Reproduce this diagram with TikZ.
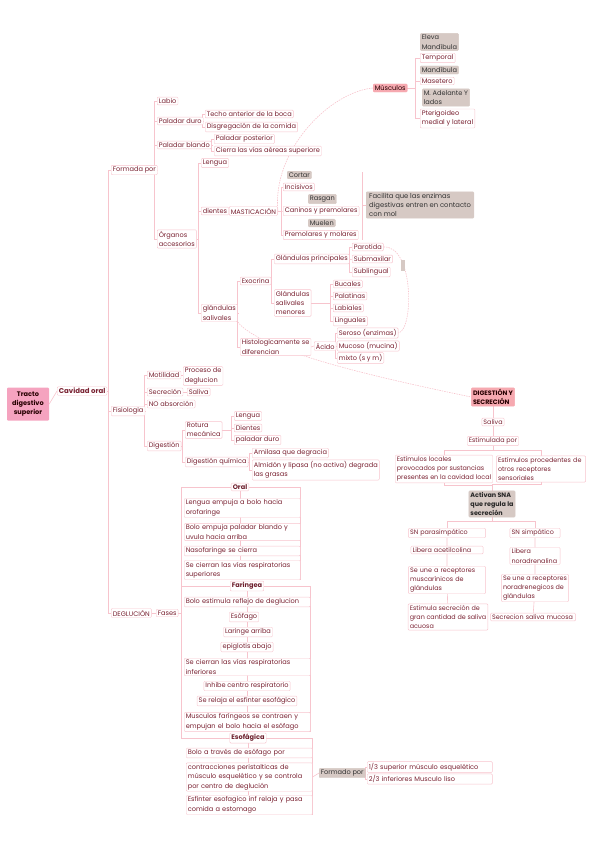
\documentclass[tikz,border=0pt]{standalone}
\usepackage{fontspec}
\setmainfont{Poppins}
\usepackage{xcolor}
\usetikzlibrary{backgrounds,calc}
\definecolor{lpink}{HTML}{F7C4CD}
\definecolor{txtred}{HTML}{7A2232}
\definecolor{taupe}{HTML}{D6C9C4}
\definecolor{rootpink}{HTML}{F5A3BF}
\definecolor{muspink}{HTML}{F6A9B0}
\tikzset{
  leaf/.style={draw=lpink, fill=white, rounded corners=1pt, inner xsep=1.6pt, inner ysep=1.4pt, text=txtred,
    font=\fontsize{6.6}{9.4}\selectfont, anchor=west, align=left},
  greybox/.style={leaf, fill=taupe, draw=taupe, text=black!80},
  midleaf/.style={leaf, anchor=center},
  header/.style={midleaf, font=\fontsize{6.6}{9.4}\selectfont\bfseries, text=txtred!90!black},
  phase/.style={leaf, text width=113pt},
  phasewide/.style={leaf, text width=123pt},
  rootbox/.style={fill=rootpink, rounded corners=1pt, align=center, minimum width=42pt,
    minimum height=33pt, inner sep=1pt, font=\fontsize{6.6}{9.4}\selectfont\bfseries, text=black!85!red},
  musbox/.style={leaf, fill=muspink, draw=muspink, text=black!85!red},
  digbox/.style={midleaf, fill=muspink, draw=muspink, text=black!85!red, font=\fontsize{6.4}{9.2}\selectfont\bfseries},
  actbox/.style={midleaf, fill=taupe, draw=taupe, text=black!85, font=\fontsize{6.4}{9.2}\selectfont\bfseries},
  rightleaf/.style={midleaf, font=\fontsize{6.4}{9.2}\selectfont},
  wire/.style={draw=lpink, line width=0.6pt},
  relwire/.style={draw=lpink, dash pattern=on 1.5pt off 1pt, line width=0.6pt},
}
\begin{document}
\begin{tikzpicture}[x=1pt,y=-1pt]
\useasboundingbox (0,0) rectangle (600,848);
% raiz
\node[rootbox] (tracto) at (28,404) {Tracto\\digestivo\\superior};
\node[leaf, font=\fontsize{7}{9}\selectfont\bfseries] (cavidad) at (57,391) {Cavidad oral};
\node[leaf] (formada) at (111,170) {Formada por};
\node[leaf] (fisio) at (111,411) {Fisiologia};
\node[leaf] (deglu) at (111,613) {DEGLUCIÓN};
% formada por
\node[leaf] (labio) at (157,101) {Labio};
\node[leaf] (pduro) at (157,121) {Paladar duro};
\node[leaf] (pblando) at (157,145) {Paladar blando};
\node[leaf] (organos) at (157,239) {Órganos\\accesorios};
\node[leaf] (techo) at (205,114) {Techo anterior de la boca};
\node[leaf] (disgre) at (205,127) {Disgregación de la comida};
\node[leaf] (pposte) at (214,139) {Paladar posterior};
\node[leaf] (cierra) at (214,151) {Cierra las vías aéreas superiore};
\node[leaf] (lengua) at (201,163) {Lengua};
\node[leaf] (dientes) at (201,211) {dientes};
\node[leaf] (glsal) at (201,313) {glándulas\\salivales};
% masticacion
\node[leaf] (mast) at (229,211) {MASTICACIÓN};
\node[greybox] (cortar) at (287,175) {Cortar};
\node[leaf] (incis) at (283,187) {Incisivos};
\node[greybox] (rasgan) at (308,199) {Rasgan};
\node[leaf] (canin) at (283,211) {Caninos y premolares};
\node[greybox] (muelen) at (308,223) {Muelen};
\node[leaf] (premol) at (283,235) {Premolares y molares};
\node[greybox, inner xsep=3pt, font=\fontsize{6.8}{9.2}\selectfont] (facil) at (366,205) {Facilita que las enzimas\\digestivas entren en contacto\\con mol};
\coordinate (sumtop) at (362,172);
\coordinate (sumbot) at (362,240);
% glandulas
\node[leaf] (exo) at (240,281) {Exocrina};
\node[leaf] (histo) at (240,347) {Histologicamente se\\diferencian};
\node[leaf] (glprin) at (274,259) {Glándulas principales};
\node[leaf] (glmen) at (274,303) {Glándulas\\salivales\\menores};
\node[leaf] (parot) at (352,247) {Parotida};
\node[leaf] (submax) at (352,259) {Submaxilar};
\node[leaf] (subling) at (352,272) {Sublingual};
\node[leaf] (bucal) at (333,284) {Bucales};
\node[leaf] (palat) at (333,296) {Palatinas};
\node[leaf] (labial) at (333,308) {Labiales};
\node[leaf] (lingual) at (333,321) {Linguales};
\node[leaf] (acido) at (314,346) {Ácido};
\node[leaf] (seroso) at (337,333) {Seroso (enzimas)};
\node[leaf] (mucoso) at (337,346) {Mucoso (mucina)};
\node[leaf] (mixto) at (337,358) {mixto (s y m)};
% musculos
\node[musbox] (musc) at (373,88) {Músculos};
\node[greybox] (eleva) at (420,42) {Eleva\\Mandíbula};
\node[leaf] (temporal) at (420,58) {Temporal};
\node[greybox] (mandi) at (420,70) {Mandíbula};
\node[leaf] (masetero) at (420,81) {Masetero};
\node[greybox] (adelante) at (422,97.5) {M. Adelante Y\\lados};
\node[leaf] (pterig) at (420,118.5) {Pterigoideo\\medial y lateral};
% fisiologia
\node[leaf] (motil) at (147,375) {Motilidad};
\node[leaf] (secre) at (147,392) {Secreción};
\node[leaf] (noabs) at (147,404) {NO absorción};
\node[leaf] (diges) at (147,446) {Digestión};
\node[leaf] (proceso) at (183,376) {Proceso de\\deglucion};
\node[leaf] (saliva1) at (187,392) {Saliva};
\node[leaf] (rotura) at (185,430) {Rotura\\mecánica};
\node[leaf] (dquim) at (185,462) {Digestión química};
\node[leaf] (lengua2) at (234,416) {Lengua};
\node[leaf] (dientes2) at (234,428) {Dientes};
\node[leaf] (pduro2) at (234,440) {paladar duro};
\node[leaf] (amilasa) at (252,453) {Amilasa que degracia};
\node[leaf] (almidon) at (252,470) {Almidón y lipasa (no activa) degrada\\las grasas};
% deglucion
\node[leaf] (fases) at (156,613) {Fases};
\node[header] (oralh) at (240,487) {Oral};
\node[phase] (o1) at (184,508) {Lengua empuja a bolo hacia\\orofaringe};
\node[phase] (o2) at (184,532) {Bolo empuja paladar blando y\\uvula hacia arriba};
\node[phase] (o3) at (184,551) {Nasofaringe se cierra};
\node[phase] (o4) at (184,570) {Se cierran las vías respiratorias\\superiores};
\node[header] (farh) at (247,586) {Faringea};
\node[phasewide] (f1) at (184,602) {Bolo estimula reflejo de deglucion};
\node[midleaf] (f2) at (244,617) {Esófago};
\node[midleaf] (f3) at (248,632) {Laringe arriba};
\node[midleaf] (f4) at (247,647) {epiglotis abajo};
\node[phasewide] (f5) at (184,667) {Se cierran las vías respiratorias\\inferiores};
\node[midleaf] (f6) at (247,686) {Inhibe centro respiratorio};
\node[midleaf] (f7) at (247,701) {Se relaja el esfinter esofágico};
\node[phasewide] (f8) at (184,722) {Musculos faríngeos se contraen y\\empujan el bolo hacia el esófago};
\node[header] (esoh) at (248,738) {Esofágica};
\node[phasewide] (e1) at (186,753) {Bolo a través de esófago por};
\node[phasewide] (e2) at (186,777) {contracciones peristalticas de\\músculo esquelético y se controla\\por centro de deglución};
\node[phasewide] (e3) at (186,805) {Esfinter esofagico inf relaja y pasa\\comida a estomago};
\node[greybox] (formado) at (319,773) {Formado por};
\node[leaf, text width=122pt] (tercio1) at (367,767) {1/3 superior músculo esquelético};
\node[leaf, text width=122pt] (tercio2) at (367,779) {2/3 inferiores Musculo liso};
% digestion y secrecion
\node[digbox] (digsec) at (493,397) {DIGESTIÓN Y\\SECRECIÓN};
\node[rightleaf] (saliva2) at (493,422) {Saliva};
\node[rightleaf] (estim) at (493,441) {Estimulada por};
\node[rightleaf] (locales) at (444,469) {Estímulos locales\\provocados por sustancias\\presentes en la cavidad local};
\node[rightleaf, text width=86pt] (proced) at (541,469) {Estímulos procedentes de\\otros receptores\\sensoriales};
\node[actbox] (activan) at (492,504) {Activan SNA\\que regula la\\secreción};
\node[rightleaf, text width=74pt] (snpara) at (447,533) {SN parasimpático};
\node[rightleaf, text width=47pt] (snsimp) at (535,533) {SN simpático};
\node[rightleaf, text width=69pt] (acetil) at (447,550) {Libera acetilcolina};
\node[rightleaf, text width=47pt] (noradr) at (535,556) {Libera\\noradrenalina};
\node[rightleaf, text width=74pt] (muscar) at (447,580) {Se une a receptores\\muscarínicos de\\glándulas};
\node[rightleaf] (noradg) at (535,588) {Se une a receptores\\noradrenegicos de\\glándulas};
\node[rightleaf] (acuosa) at (448,617) {Estimula secreción de\\gran cantidad de saliva\\acuosa};
\node[rightleaf, text width=82pt] (mucosa) at (533,617) {Secrecion saliva mucosa};
\fill[taupe] (401,260) rectangle (405,271);
\begin{scope}[on background layer]
\draw[wire] (tracto.east) -- (cavidad.west);
\foreach \c in {formada,fisio,deglu} \draw[wire] (\c.west) -- ++(-2.5,0) |- (cavidad.east);
\foreach \c in {labio,pduro,pblando,organos} \draw[wire] (\c.west) -- ++(-2.5,0) |- (formada.east);
\foreach \c in {techo,disgre} \draw[wire] (\c.west) -- ++(-2.5,0) |- (pduro.east);
\foreach \c in {pposte,cierra} \draw[wire] (\c.west) -- ++(-2.5,0) |- (pblando.east);
\foreach \c in {lengua,dientes,glsal} \draw[wire] (\c.west) -- ++(-2.5,0) |- (organos.east);
\draw[wire] (dientes.east) -- (mast.west);
\foreach \c in {incis,canin,premol} \draw[wire] (\c.west) -- ++(-2,0) |- (mast.east);
\draw[wire] (sumtop) -- (sumbot) (sumtop |- facil.west) -- (facil.west);
\foreach \c in {exo,histo} \draw[wire] (\c.west) -- ++(-2.5,0) |- (glsal.east);
\foreach \c in {glprin,glmen} \draw[wire] (\c.west) -- ++(-2.5,0) |- (exo.east);
\foreach \c in {parot,submax,subling} \draw[wire] (\c.west) -- ++(-2.5,0) |- (glprin.east);
\foreach \c in {bucal,palat,labial,lingual} \draw[wire] (\c.west) -- ++(-2.5,0) |- (glmen.east);
\draw[wire] (histo.east) -- (acido.west);
\foreach \c in {seroso,mucoso,mixto} \draw[wire] (\c.west) -- ++(-1.5,0) |- (acido.east);
\foreach \c in {temporal,masetero,pterig} \draw[wire] (\c.west) -- ++(-5,0) |- (musc.east);
\foreach \c in {motil,secre,noabs,diges} \draw[wire] (\c.west) -- ++(-2.5,0) |- (fisio.east);
\draw[wire] (motil.east) -- (motil.east -| proceso.west);
\draw[wire] (secre.east) -- (saliva1.west);
\foreach \c in {rotura,dquim} \draw[wire] (\c.west) -- ++(-2.5,0) |- (diges.east);
\foreach \c in {lengua2,dientes2,pduro2} \draw[wire] (\c.west) -- ++(-2.5,0) |- (rotura.east);
\foreach \c in {amilasa,almidon} \draw[wire] (\c.west) -- ++(-2.5,0) |- (dquim.east);
\draw[wire] (deglu.east) -- (fases.west);
\foreach \c in {oralh,farh,esoh} \draw[wire] (fases.east) -- ++(3,0) |- (\c.west);
\draw[wire] (oralh.east) -| (o4.south east);
\draw[wire] (farh.east) -| (f8.south east);
\draw[wire] (esoh.east) -| (e3.south east);
\draw[wire] (oralh.south) -- (oralh.south |- o4.north);
\draw[wire] (farh.south) -- (farh.south |- f8.north);
\draw[wire] (esoh.south) -- (esoh.south |- e3.north);
\draw[wire] (e2.east) -- (formado.west);
\foreach \c in {tercio1,tercio2} \draw[wire] (\c.west) -- ++(-1.5,0) |- (formado.east);
% columna derecha
\draw[wire] (digsec) -- (saliva2) -- (estim);
\foreach \c in {locales,proced} \draw[wire] (estim.south) -- ++(0,4) -| (\c.north);
\foreach \c in {locales,proced} \draw[wire] (\c.south) -- ++(0,2) -| (activan.north);
\foreach \c in {snpara,snsimp} \draw[wire] (activan.south) -- ++(0,4) -| (\c.north);
\draw[wire] (snpara) -- (acetil) -- (muscar) -- (acuosa);
\draw[wire] (snsimp) -- (noradr) -- (noradg) -- (mucosa);
% relaciones
\draw[relwire] (mast.east) .. controls (272,150) and (330,92) .. (musc.west);
\draw[relwire] (glsal.south east) .. controls (262,352) and (380,378) .. (digsec.west);
\draw[relwire] (parot.east) .. controls (414,245) and (414,330) .. (seroso.east);
\end{scope}
\end{tikzpicture}
\end{document}
